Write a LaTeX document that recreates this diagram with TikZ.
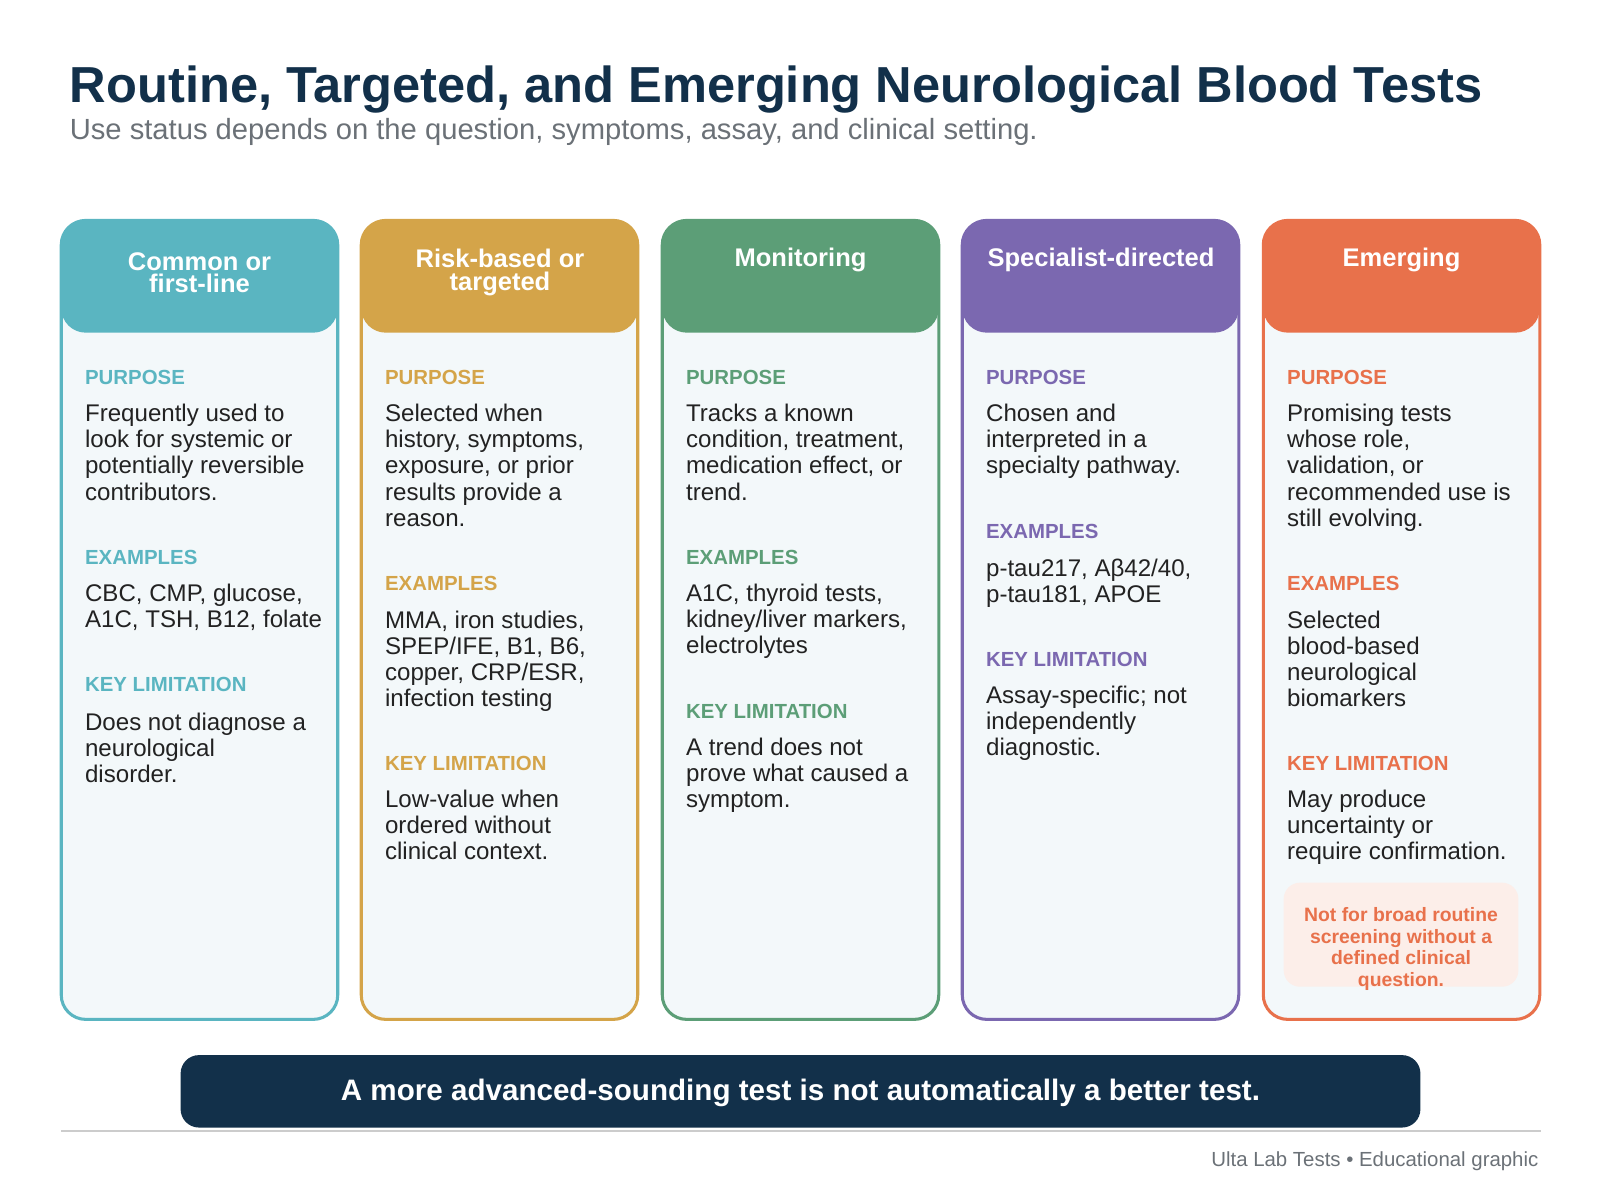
\documentclass[tikz,border=0pt]{standalone}
\usepackage{fontspec}
\setmainfont{Liberation Sans}
\definecolor{navy}{HTML}{12304A}
\definecolor{cA}{HTML}{5AB5C1}
\definecolor{cB}{HTML}{D4A449}
\definecolor{cC}{HTML}{5C9E77}
\definecolor{cD}{HTML}{7B68B0}
\definecolor{cE}{HTML}{E8714B}
\definecolor{bodyfill}{HTML}{F3F8FA}
\definecolor{txt}{HTML}{222222}
\definecolor{gtxt}{HTML}{6B7177}
\begin{document}
\begin{tikzpicture}[x=0.5pt,y=-0.5pt,
 lab/.style={anchor=west,font=\fontsize{10}{11}\selectfont\bfseries,inner sep=0},
 body/.style={anchor=north west,align=left,font=\fontsize{11.8}{12.75}\selectfont,text=txt,inner sep=0},
 head/.style={align=center,font=\fontsize{12.5}{12}\selectfont\bfseries,text=white,inner sep=0}]
\useasboundingbox (0,0) rectangle (1568,1176);
\node[anchor=base west,inner sep=0,text=navy,font=\fontsize{24.8}{25}\selectfont\bfseries] (title) at (68,100) {Routine, Targeted, and Emerging Neurological Blood Tests};
\node[anchor=base west,inner sep=0,text=gtxt,font=\fontsize{14.3}{13}\selectfont] (sub) at (68,137) {Use status depends on the question, symptoms, assay, and clinical setting.};
% cards
\foreach \x/\c/\n in {60/cA/1,354/cB/2,649/cC/3,943/cD/4,1238/cE/5}{
 \draw[draw=\c,line width=1.5pt,fill=bodyfill,rounded corners=12pt] (\x,216) rectangle (\x+271,999);
 \fill[\c,rounded corners=12pt] (\x,216) rectangle (\x+271,326);
}
\node[head] (h1) at (195.5,267) {Common or\\[-1pt]first-line};
\node[head] (h2) at (490,267) {Risk-based or\\[-1pt]targeted};
\node[head] (h3) at (784.5,255) {Monitoring};
\node[head] (h4) at (1079,255) {Specialist-directed};
\node[head] (h5) at (1373.5,255) {Emerging};
% card 1
\node[lab,text=cA] (p1) at (83,370) {PURPOSE};
\node[body] (pb1) at (83,396) {Frequently used to\\look for systemic or\\potentially reversible\\contributors.};
\node[lab,text=cA] (e1) at (83,546) {EXAMPLES};
\node[body] (eb1) at (83,572) {CBC, CMP, glucose,\\A1C, TSH, B12, folate};
\node[lab,text=cA] (k1) at (83,671) {KEY LIMITATION};
\node[body] (kb1) at (83,698) {Does not diagnose a\\neurological\\disorder.};
% card 2
\node[lab,text=cB] (p2) at (377,370) {PURPOSE};
\node[body] (pb2) at (377,396) {Selected when\\history, symptoms,\\exposure, or prior\\results provide a\\reason.};
\node[lab,text=cB] (e2) at (377,572) {EXAMPLES};
\node[body] (eb2) at (377,598) {MMA, iron studies,\\SPEP/IFE, B1, B6,\\copper, CRP/ESR,\\infection testing};
\node[lab,text=cB] (k2) at (377,748) {KEY LIMITATION};
\node[body] (kb2) at (377,774) {Low-value when\\ordered without\\clinical context.};
% card 3
\node[lab,text=cC] (p3) at (672,370) {PURPOSE};
\node[body] (pb3) at (672,396) {Tracks a known\\condition, treatment,\\medication effect, or\\trend.};
\node[lab,text=cC] (e3) at (672,546) {EXAMPLES};
\node[body] (eb3) at (672,572) {A1C, thyroid tests,\\kidney/liver markers,\\electrolytes};
\node[lab,text=cC] (k3) at (672,697) {KEY LIMITATION};
\node[body] (kb3) at (672,723) {A trend does not\\prove what caused a\\symptom.};
% card 4
\node[lab,text=cD] (p4) at (966,370) {PURPOSE};
\node[body] (pb4) at (966,396) {Chosen and\\interpreted in a\\specialty pathway.};
\node[lab,text=cD] (e4) at (966,521) {EXAMPLES};
\node[body] (eb4) at (966,547) {p-tau217, Aβ42/40,\\p-tau181, APOE};
\node[lab,text=cD] (k4) at (966,646) {KEY LIMITATION};
\node[body] (kb4) at (966,672) {Assay-specific; not\\independently\\diagnostic.};
% card 5
\node[lab,text=cE] (p5) at (1261,370) {PURPOSE};
\node[body] (pb5) at (1261,396) {Promising tests\\whose role,\\validation, or\\recommended use is\\still evolving.};
\node[lab,text=cE] (e5) at (1261,572) {EXAMPLES};
\node[body] (eb5) at (1261,598) {Selected\\blood-based\\neurological\\biomarkers};
\node[lab,text=cE] (k5) at (1261,748) {KEY LIMITATION};
\node[body] (kb5) at (1261,774) {May produce\\uncertainty or\\require confirmation.};
\fill[fill=cE!12,rounded corners=8pt] (1258,865) rectangle (1488,967);
\node[align=center,text=cE,font=\fontsize{9.5}{10.75}\selectfont\bfseries,inner sep=0] (note) at (1373,930) {Not for broad routine\\screening without a\\defined clinical\\question.};
% banner
\fill[navy,rounded corners=9pt] (177,1034) rectangle (1392,1105);
\node[text=white,font=\fontsize{14.5}{14}\selectfont\bfseries,inner sep=0] (ban) at (784.5,1071) {A more advanced-sounding test is not automatically a better test.};
\draw[color=gray!40,line width=1pt] (60,1108) -- (1510,1108);
\node[anchor=east,text=gtxt,font=\fontsize{10}{10}\selectfont,inner sep=0] (foot) at (1508,1138) {Ulta Lab Tests • Educational graphic};
\end{tikzpicture}
\end{document}
